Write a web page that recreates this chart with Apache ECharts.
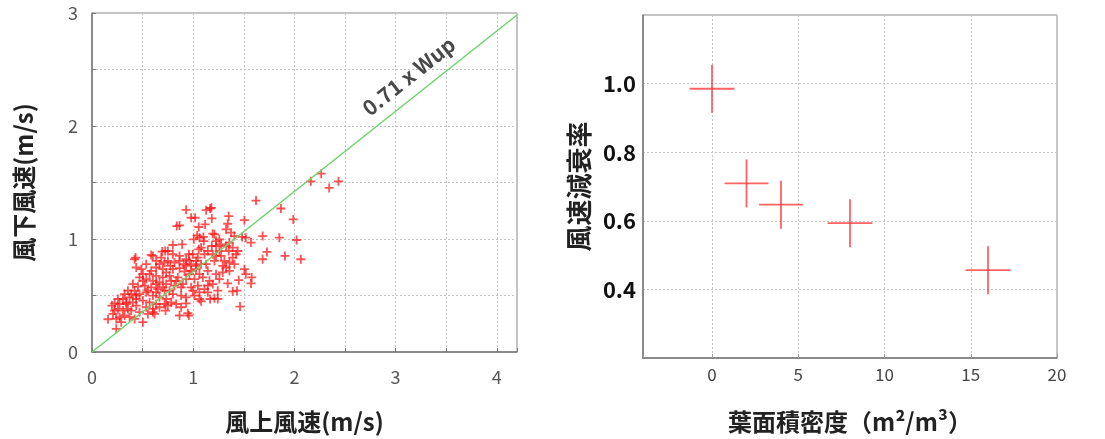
<!DOCTYPE html>
<html>
<head>
<meta charset="utf-8">
<script src="https://cdn.jsdelivr.net/npm/echarts@6/dist/echarts.min.js"></script>
<style>
html,body{margin:0;padding:0;background:#fff;}
#c{width:1105px;height:439px;}
</style>
</head>
<body>
<div id="c"></div>
<script>
// ---- Left panel: upwind vs downwind wind speed (m/s) ----
const upwind = [
2.265,2.163,2.436,2.344,1.621,1.867,1.989,1.506,2.022,1.851,1.686,1.907,2.064,1.729,1.686,1.571,1.52,1.506,1.52,1.578,
1.571,1.45,1.433,1.39,1.463,1.341,1.351,1.341,1.167,1.18,1.128,0.930,0.98,1.019,1.184,0.838,0.865,1.055,1.118,1.325,
1.374,1.193,1.21,1.039,1.062,1.006,1.101,1.226,1.259,1.105,1.407,1.483,0.799,0.891,1.184,1.226,1.325,1.39,1.259,1.351,
1.424,1.055,1.078,0.694,0.723,0.602,0.585,0.431,0.421,0.957,0.996,1.046,0.930,0.963,1.029,1.226,1.276,1.308,1.358,1.292,
1.325,1.21,1.128,1.029,0.930,0.865,0.815,0.750,0.717,0.667,0.773,0.799,0.865,0.914,0.980,1.062,1.144,1.226,1.259,1.161,
1.095,1.013,0.930,0.848,0.766,0.700,0.634,0.569,0.503,0.470,0.536,0.602,0.667,0.733,0.815,0.881,0.980,1.046,1.144,0.996,
1.062,1.144,1.243,1.062,1.078,1.167,1.21,1.243,0.930,0.881,0.799,0.717,0.651,0.585,0.520,0.454,0.404,0.355,0.421,0.470,
0.536,0.602,0.667,0.733,0.782,0.717,0.634,0.569,0.503,0.437,0.371,0.306,0.273,0.339,0.404,0.437,0.536,0.602,0.618,0.727,
0.865,0.947,0.957,0.503,0.602,0.197,0.224,0.256,0.306,0.355,0.322,0.273,0.240,0.289,0.240,0.158,0.421,0.371,0.207,0.339,
0.437,0.552,0.634,0.700,0.766,0.832,0.898,0.963,1.029,1.078,1.111,1.144,1.193,1.276,1.358,0.634,0.585,0.700,0.733,0.782,
0.634,0.503,0.388,0.322,0.256,0.224,0.388,0.470,0.552,0.667,0.749,0.832,0.881,0.930,1.013,1.111,1.193,1.292,1.358,1.407,
1.440,1.39,0.907,0.980,0.865,0.799,0.750,0.684,0.634,0.536,0.487,0.437
];
const downwind = [
1.578,1.510,1.510,1.452,1.340,1.270,1.173,1.167,0.991,1.012,1.026,0.850,0.821,0.886,0.821,0.968,1.012,0.733,0.689,0.660,
0.607,0.636,0.543,0.537,0.402,0.607,1.202,1.135,1.270,1.276,1.255,1.258,1.188,1.188,1.182,1.114,1.120,1.106,1.129,1.085,
1.056,1.047,1.041,1.032,1.012,0.997,1.018,0.982,0.997,0.982,1.026,1.018,0.947,0.953,0.938,0.938,0.938,0.924,0.894,0.894,
0.865,0.909,0.924,0.889,0.894,0.850,0.859,0.836,0.821,0.865,0.865,0.836,0.821,0.806,0.806,0.850,0.850,0.806,0.792,0.762,
0.748,0.806,0.777,0.762,0.762,0.806,0.792,0.806,0.792,0.777,0.762,0.733,0.742,0.713,0.718,0.689,0.718,0.689,0.645,0.630,
0.660,0.645,0.645,0.660,0.674,0.660,0.674,0.689,0.689,0.660,0.645,0.630,0.616,0.601,0.587,0.572,0.572,0.587,0.587,0.543,
0.528,0.528,0.543,0.469,0.449,0.469,0.475,0.469,0.484,0.499,0.513,0.543,0.557,0.572,0.587,0.578,0.601,0.543,0.543,0.513,
0.528,0.499,0.484,0.469,0.440,0.425,0.425,0.440,0.455,0.469,0.484,0.469,0.425,0.425,0.440,0.411,0.396,0.381,0.337,0.367,
0.323,0.343,0.323,0.264,0.352,0.411,0.367,0.381,0.367,0.381,0.323,0.308,0.293,0.264,0.205,0.290,0.293,0.308,0.337,0.440,
0.499,0.543,0.528,0.572,0.543,0.630,0.601,0.689,0.733,0.777,0.865,0.894,0.865,0.953,0.968,0.748,0.718,0.733,0.704,0.630,
0.601,0.630,0.513,0.513,0.469,0.431,0.367,0.352,0.337,0.396,0.411,0.425,0.396,0.431,0.499,0.557,0.601,0.704,0.718,0.777,
0.894,0.836,0.777,0.777,0.850,0.865,0.894,0.836,0.806,0.777,0.733,0.748
];
const fitSlope = [0.71];
const fitX = [0, 4.2];
const fitLabel = ['0.71 x Wup'];
const leftXTicks = [0, 1, 2, 3, 4];
const leftYTicks = [0, 1, 2, 3];

// ---- Right panel: leaf area density vs wind speed reduction ratio ----
const lad = [0, 2, 4, 8, 16];
const ratio = [0.985, 0.709, 0.647, 0.593, 0.456];
const ladErr = [1.3, 1.27, 1.27, 1.3, 1.3];
const ratioErr = [0.07, 0.07, 0.07, 0.07, 0.07];
const rightXTicks = [0, 5, 10, 15, 20];
const rightYTicks = ['0.4', '0.6', '0.8', '1.0'];

const FONT = '"Noto Sans CJK JP", "Noto Sans", sans-serif';
const scatterData = upwind.map((x, i) => [x, downwind[i]]);
const fitData = fitX.map(x => [x, x * fitSlope[0]]);
const labelX = 3.13;
const labelPt = [[labelX, labelX * fitSlope[0] + 0.22]];
const errData = lad.map((x, i) => [x, ratio[i], ladErr[i], ratioErr[i]]);

const gridLine = {show: true, lineStyle: {color: '#c4c4c4', type: [2, 2], width: 1}};
const plus = 'path://M4,0h2v4h4v2h-4v4h-2v-4h-4v-2h4z';

const chart = echarts.init(document.getElementById('c'), null, {renderer: 'canvas'});
chart.setOption({
  backgroundColor: '#fff',
  animation: false,
  grid: [
    {left: 92, top: 13, width: 425, height: 342, show: true, borderColor: '#8a8a8a', borderWidth: 1, backgroundColor: 'transparent'},
    {left: 643, top: 15, width: 414, height: 343, show: true, borderColor: '#8a8a8a', borderWidth: 1, backgroundColor: 'transparent'}
  ],
  xAxis: [
    {gridIndex: 0, type: 'value', min: 0, max: 4.2, interval: 0.5,
      axisLine: {show: true, onZero: false, lineStyle: {color: '#777', width: 1.5}},
      axisTick: {show: true, inside: true, length: 4, lineStyle: {color: '#777'}},
      axisLabel: {margin: 16, color: '#555', fontSize: 18, fontFamily: FONT,
        formatter: v => leftXTicks.includes(v) ? String(v) : ''},
      splitLine: gridLine,
      name: '風上風速(m/s)', nameLocation: 'middle', nameGap: 58,
      nameTextStyle: {fontSize: 24, fontWeight: 'bold', color: '#222', fontFamily: FONT}
    },
    {gridIndex: 1, type: 'value', min: -4, max: 20, splitNumber: 5,
      axisLine: {show: true, onZero: false, lineStyle: {color: '#777', width: 1.5}},
      axisTick: {show: true, inside: true, length: 4, lineStyle: {color: '#999'}},
      axisLabel: {margin: 8, color: '#444', fontSize: 17, fontFamily: FONT,
        formatter: v => rightXTicks.includes(v) ? String(v) : ''},
      splitLine: gridLine,
      name: '葉面積密度（m²/m³）', nameLocation: 'middle', nameGap: 52,
      nameTextStyle: {fontSize: 24, fontWeight: 'bold', color: '#222', fontFamily: FONT}
    }
  ],
  yAxis: [
    {gridIndex: 0, type: 'value', min: 0, max: 3, interval: 0.5,
      axisLine: {show: true, onZero: false, lineStyle: {color: '#777', width: 1.5}},
      axisTick: {show: true, inside: true, length: 4, lineStyle: {color: '#777'}},
      axisLabel: {margin: 14, color: '#555', fontSize: 18, fontFamily: FONT,
        formatter: v => leftYTicks.includes(v) ? String(v) : ''},
      splitLine: gridLine,
      name: '風下風速(m/s)', nameLocation: 'middle', nameGap: 56,
      nameTextStyle: {fontSize: 24, fontWeight: 'bold', color: '#222', fontFamily: FONT}
    },
    {gridIndex: 1, type: 'value', min: 0.2, max: 1.2, interval: 0.2,
      axisLine: {show: true, onZero: false, lineStyle: {color: '#777', width: 1.5}},
      axisTick: {show: false},
      axisLabel: {margin: 7, color: '#111', fontSize: 22, fontWeight: 'bold', fontFamily: FONT,
        formatter: v => { const s = v.toFixed(1); return rightYTicks.includes(s) ? s : ''; }},
      splitLine: gridLine,
      name: '風速減衰率', nameLocation: 'middle', nameGap: 51,
      nameTextStyle: {fontSize: 26, fontWeight: 'bold', color: '#222', fontFamily: FONT}
    }
  ],
  series: [
    {type: 'line', xAxisIndex: 0, yAxisIndex: 0, data: fitData, symbol: 'none',
      lineStyle: {color: '#6ad46a', width: 1.5}, z: 3},
    {type: 'scatter', xAxisIndex: 0, yAxisIndex: 0, data: scatterData, symbol: plus, symbolSize: 9,
      itemStyle: {color: 'rgba(255,15,15,0.9)'}, z: 2},
    {type: 'scatter', xAxisIndex: 0, yAxisIndex: 0, data: labelPt, symbolSize: 0, silent: true,
      label: {show: true, position: 'inside', formatter: fitLabel[0], rotate: 38.5,
        fontSize: 21, fontWeight: 'bold', color: '#1a1a1a', fontFamily: FONT}, z: 5},
    {type: 'custom', xAxisIndex: 1, yAxisIndex: 1, data: errData,
      renderItem: (params, api) => {
        const x = api.value(0), y = api.value(1), ex = api.value(2), ey = api.value(3);
        const l = api.coord([x - ex, y]), r = api.coord([x + ex, y]);
        const t = api.coord([x, y + ey]), b = api.coord([x, y - ey]);
        const st = {stroke: 'rgba(255,60,60,0.8)', lineWidth: 1.8};
        return {type: 'group', children: [
          {type: 'line', shape: {x1: l[0], y1: l[1], x2: r[0], y2: r[1]}, style: st},
          {type: 'line', shape: {x1: t[0], y1: t[1], x2: b[0], y2: b[1]}, style: st}
        ]};
      }, z: 3}
  ]
});
</script>
</body>
</html>
